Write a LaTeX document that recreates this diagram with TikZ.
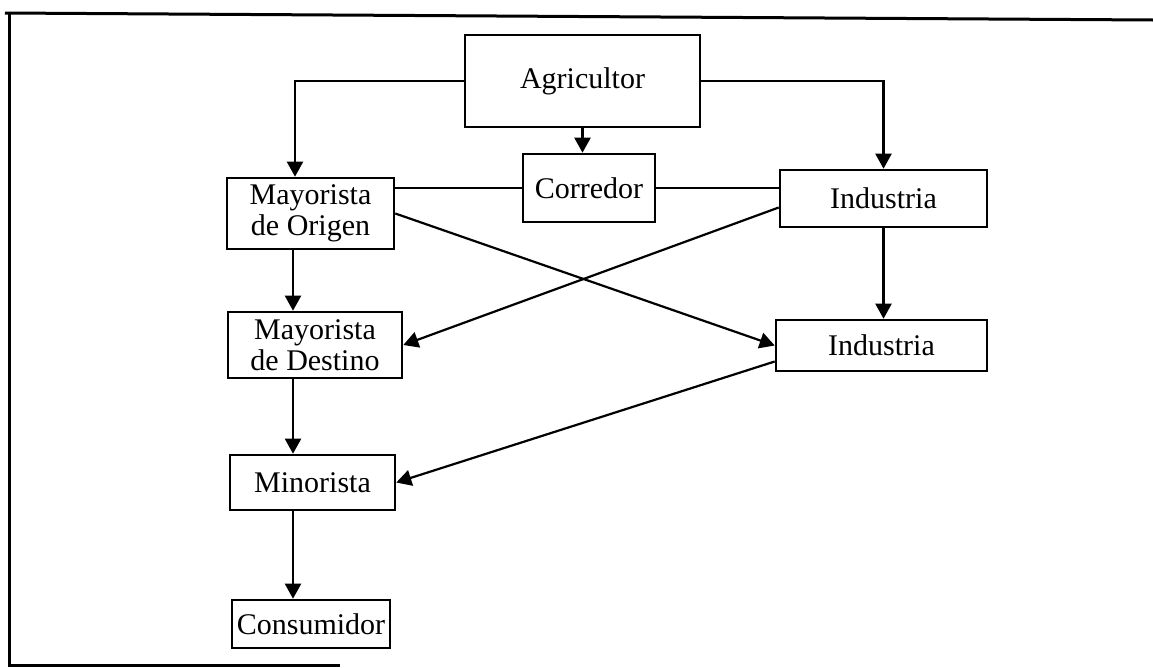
\documentclass[tikz,border=0pt]{standalone}
\usepackage{fontspec}
\setmainfont{Liberation Serif}
\usetikzlibrary{arrows.meta}
\tikzset{
    flow-box/.style = {draw=black, fill=white, line width=2.6pt, rectangle, inner sep=2pt, align=center, font=\fontsize{30}{31}\selectfont},
    flow-line/.style = {draw=black, line width=2.2pt},
    flow-arrow/.style = {flow-line, -{Triangle[length=15pt, width=16pt]}},
    frame-line/.style = {draw=black, line width=3pt},
}

\begin{document}
\begin{tikzpicture}[x=1pt, y=-1pt]
\useasboundingbox (0,0) rectangle (1153,667);
\draw[frame-line] (5,13) -- (1153,20);
\draw[frame-line] (9,12) -- (9,665) -- (340,665);

\node[flow-box, minimum width=235pt, minimum height=92pt] (agricultor) at (582.5,81) {Agricultor};
\node[flow-box, minimum width=132pt, minimum height=68pt] (corredor) at (589,188) {Corredor};
\node[flow-box, minimum width=167pt, minimum height=71pt] (mayOrigen) at (310.5,213.5) {Mayorista\\de Origen};
\node[flow-box, minimum width=207pt, minimum height=57pt] (indus1) at (883.5,198.5) {Industria};
\node[flow-box, minimum width=174pt, minimum height=66pt] (mayDestino) at (315,345) {Mayorista\\de Destino};
\node[flow-box, minimum width=211pt, minimum height=51pt] (indus2) at (881.5,345.5) {Industria};
\node[flow-box, minimum width=165pt, minimum height=55pt] (minorista) at (312.5,482.5) {Minorista};
\node[flow-box, minimum width=158pt, minimum height=48pt] (consumidor) at (311,624) {Consumidor};
\coordinate (spine) at (293,0);

\draw[flow-arrow] (agricultor.west) -| ([xshift=-15.5pt]mayOrigen.north);
\draw[flow-arrow] (agricultor.east) -| (indus1.north);
\draw[flow-arrow] (agricultor.south) -- (agricultor.south |- corredor.north);
\draw[flow-line] (corredor.west) -- (corredor.west -| mayOrigen.east);
\draw[flow-line] (corredor.east) -- (corredor.east -| indus1.west);
\draw[flow-arrow] (mayOrigen.east) -- (indus2.west);
\draw[flow-arrow] ([yshift=-9pt]indus1.west) -- (mayDestino.east);
\draw[flow-arrow] ([yshift=-16pt]indus2.west) -- (minorista.east);
\draw[flow-arrow] (indus1.south) -- (indus1.south |- indus2.north);
\draw[flow-arrow] (spine |- mayOrigen.south) -- (spine |- mayDestino.north);
\draw[flow-arrow] (spine |- mayDestino.south) -- (spine |- minorista.north);
\draw[flow-arrow] (spine |- minorista.south) -- (spine |- consumidor.north);
\end{tikzpicture}
\end{document}
